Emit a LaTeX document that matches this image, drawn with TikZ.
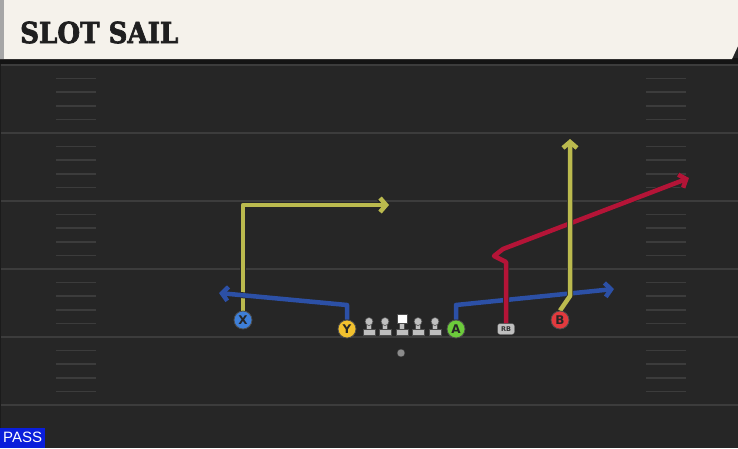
\documentclass[tikz,border=0pt]{standalone}
\usepackage{fontspec}
\usepackage{graphicx}
\usepackage{tikz}
\usetikzlibrary{arrows.meta}
\newfontfamily\titlefont{DejaVu Serif}[FakeBold=2.5]
\newfontfamily\keyfont{DejaVu Sans}
\newfontfamily\tagfont{Liberation Sans}
\definecolor{field}{RGB}{38,38,38}
\definecolor{yardline}{RGB}{60,60,60}
\definecolor{paper}{RGB}{245,242,235}
\definecolor{routeyellow}{RGB}{187,186,78}
\definecolor{routeblue}{RGB}{44,80,166}
\definecolor{routered}{RGB}{180,20,55}
\definecolor{keyblue}{RGB}{62,127,216}
\definecolor{keyyellow}{RGB}{242,193,46}
\definecolor{keygreen}{RGB}{108,203,59}
\definecolor{keyred}{RGB}{226,58,62}
\definecolor{passblue}{RGB}{10,30,219}
\pgfdeclarelayer{front}
\pgfsetlayers{main,front}

\begin{document}
\begin{tikzpicture}[x=1pt,y=-1pt,
    route/.style={line width=4.5pt,line join=round,-{Straight Barb[length=6pt,width=14pt]},preaction={draw=black!85,line width=6pt}},
    player/.style={circle,draw=black!70,line width=0.8pt,minimum size=18pt,inner sep=0pt,font=\keyfont\bfseries\fontsize{12}{12}\selectfont,text=black!85},
    lineman/.style={fill=black!25,draw=black!70,line width=0.6pt}]
      \useasboundingbox (0,0) rectangle (738,448);
      \fill[field] (0,0) rectangle (738,448);
      \fill[black!92] (0,58) rectangle (738,64);
      \fill[paper] (0,0) -- (738,0) -- (738,46) -- (732,59) -- (0,59) -- cycle;
      \fill[black!35] (0,0) rectangle (4,59);
      \node[anchor=west,inner sep=0pt,text=black!88] (title) at (20,32.5) {\scalebox{0.9}[1]{\titlefont\bfseries\fontsize{29}{29}\selectfont SLOT SAIL}};
      \foreach \y in {65,133,201,269,337,405}
        \draw[yardline,line width=1.8pt] (0,\y) -- (738,\y);
      \foreach \y in {65,133,201,269,337}
        \foreach \k in {1,2,3,4} {
          \draw[yardline,line width=1.5pt] (56,\y+13.6*\k) -- (96,\y+13.6*\k);
          \draw[yardline,line width=1.5pt] (646,\y+13.6*\k) -- (686,\y+13.6*\k);
        }
      \draw[field!70!black,line width=1pt] (0.5,64) -- (0.5,448);
      \node[fill=passblue,anchor=south west,inner sep=0pt,minimum width=45pt,minimum height=20pt,text=white,font=\tagfont\fontsize{15}{15}\selectfont] (play) at (0,448) {PASS};
      \foreach \x in {369,385,418,435} {
        \draw[lineman] (\x-6,329) rectangle (\x+6,335);
        \draw[lineman] (\x-2.5,323) rectangle (\x+2.5,329);
        \draw[lineman] (\x,321.5) circle (4);
      }
      \draw[lineman] (396,329) rectangle (408,335);
      \draw[lineman] (399.5,322) rectangle (404.5,329);
      \draw[fill=white,draw=black!70,line width=0.6pt] (397,314) rectangle (407,323);
      \draw[fill=black!45,draw=black!80] (401,353) circle (4);
      \begin{pgfonlayer}{front}
        \node[player,fill=keyblue] (X) at (243,320) {X};
        \node[player,fill=keyyellow] (Y) at (347,329) {Y};
        \node[player,fill=keygreen] (A) at (456,329) {A};
        \node[player,fill=keyred] (B) at (560,320) {B};
        \node[fill=black!25,draw=black!70,rounded corners=2.5pt,minimum width=17pt,minimum height=11pt,inner sep=0pt,font=\keyfont\bfseries\fontsize{6.5}{6.5}\selectfont,text=black!80] (RB) at (506,329) {RB};
      \end{pgfonlayer}
      \draw[route,routeyellow] (X.north) -- (243,205) -- (389,205);
      \draw[route,routeblue] (Y.north) -- (347,305) -- (219,293);
      \draw[route,routeblue] (A.north) -- (456,305) -- (614,289);
      \draw[route,routered] (RB.north) -- (506,262) -- (494,256) -- (503,249) -- (689,178);
      \draw[route,routeyellow] (B.north) -- (570,296) -- (570,139);
    \end{tikzpicture}
\end{document}
